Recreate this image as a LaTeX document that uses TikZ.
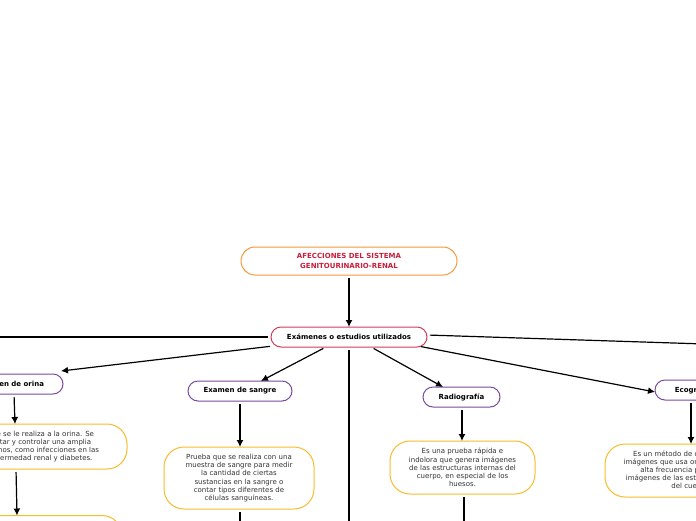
\documentclass[tikz,border=0pt]{standalone}
\usepackage{fontspec}
\setmainfont{DejaVu Sans}
\usetikzlibrary{arrows.meta}
\definecolor{titleorange}{HTML}{F39A3B}
\definecolor{titlered}{HTML}{C81E3C}
\definecolor{mainred}{HTML}{D23C5A}
\definecolor{topicpurple}{HTML}{7A4A9E}
\definecolor{descyellow}{HTML}{F8BC2C}
\definecolor{desctext}{HTML}{333333}
\tikzset{
  every node/.style={inner sep=0pt, outer sep=0pt},
  titlebox/.style={draw=titleorange, line width=1pt, rounded corners=14pt, fill=white,
    minimum width=216pt, minimum height=28pt, align=center, text=titlered,
    font=\fontsize{7}{9.3}\selectfont\bfseries},
  mainbox/.style={draw=mainred, line width=1pt, rounded corners=10pt, fill=white,
    minimum height=20pt, font=\fontsize{7}{8.4}\selectfont\bfseries},
  topicbox/.style={draw=topicpurple, line width=1pt, rounded corners=10pt, fill=white,
    minimum height=20pt, font=\fontsize{7}{8.4}\selectfont\bfseries},
  descbox/.style={draw=descyellow, line width=1pt, rounded corners=20pt, fill=white,
    align=center, text=desctext, font=\fontsize{7}{8.2}\selectfont},
  arr/.style={line width=1.2pt, -{Latex[length=7pt,width=7pt]}, shorten <=3pt},
  conn/.style={line width=1.2pt, shorten <=3pt},
}
\begin{document}
\begin{tikzpicture}[x=1pt,y=-1pt]
\useasboundingbox (0,0) rectangle (696,520);
\clip (0,0) rectangle (696,520);
\fill[white] (0,0) rectangle (696,520);

\node[titlebox] (title) at (349,261) {AFECCIONES DEL SISTEMA\\GENITOURINARIO-RENAL};
\node[mainbox, minimum width=156pt] (main) at (349,337) {Exámenes o estudios utilizados};

\node[topicbox, minimum width=104pt] (orina) at (11,384) {Examen de orina};
\node[descbox, minimum width=224pt, minimum height=45pt] (orinadesc) at (15,446.5)
  {Es un examen que se le realiza a la orina. Se\\utiliza para detectar y controlar una amplia\\variedad de trastornos, como infecciones en las\\vías urinarias, enfermedad renal y diabetes.};
\node[descbox, minimum width=212pt, minimum height=40pt] (orinanext) at (16,535.5) {};

\node[topicbox, minimum width=104pt] (sangre) at (240,391) {Examen de sangre};
\node[descbox, minimum width=150pt, minimum height=62pt] (sangredesc) at (239,478)
  {Prueba que se realiza con una\\muestra de sangre para medir\\la cantidad de ciertas\\sustancias en la sangre o\\contar tipos diferentes de\\células sanguíneas.};

\node[topicbox, minimum width=77pt] (radio) at (461.5,397) {Radiografía};
\node[descbox, minimum width=145pt, minimum height=53pt] (radiodesc) at (462.5,467.5)
  {Es una prueba rápida e\\indolora que genera imágenes\\de las estructuras internas del\\cuerpo, en especial de los\\huesos.};

\node[topicbox, minimum width=77pt] (eco) at (693.5,390) {Ecografía};
\node[descbox, minimum width=172pt, minimum height=53pt] (ecodesc) at (691,470.5)
  {Es un método de diagnóstico por\\imágenes que usa ondas de sonido de\\alta frecuencia para producir\\imágenes de las estructuras internas\\del cuerpo.};

\coordinate (leftend) at (-20,337);
\coordinate (rightend) at (720,344.5);
\coordinate (centerend) at (349,540);
\coordinate (sangreend) at (240,540);
\coordinate (radioend) at (464,540);

\draw[arr] (title.south) -- (main.north);
\draw[conn] (main.west) -- (leftend);
\draw[conn] ([yshift=2pt]main.east) -- (rightend);
\draw[arr] ([xshift=2pt,yshift=1pt]main.south west) -- ([xshift=-2pt,yshift=3pt]orina.north east);
\draw[arr] ([xshift=-23pt]main.south) -- ([xshift=21pt]sangre.north);
\draw[conn] (main.south) -- (centerend);
\draw[arr] ([xshift=22pt]main.south) -- ([xshift=-18.5pt]radio.north);
\draw[arr] ([xshift=-9pt,yshift=1pt]main.south east) -- ([yshift=-2pt]eco.west);

\draw[arr] ([xshift=3pt]orina.south) -- ([xshift=0pt]orinadesc.north);
\draw[arr] ([xshift=1pt]orinadesc.south) -- ([xshift=1pt]orinanext.north);
\draw[arr] (sangre.south) -- ([xshift=1pt]sangredesc.north);
\draw[conn] ([xshift=1pt]sangredesc.south) -- (sangreend);
\draw[arr] ([xshift=0.5pt]radio.south) -- ([xshift=-0.5pt]radiodesc.north);
\draw[conn] ([xshift=1.5pt]radiodesc.south) -- (radioend);
\draw[arr] ([xshift=-2.5pt]eco.south) -- (ecodesc.north);
\end{tikzpicture}
\end{document}
